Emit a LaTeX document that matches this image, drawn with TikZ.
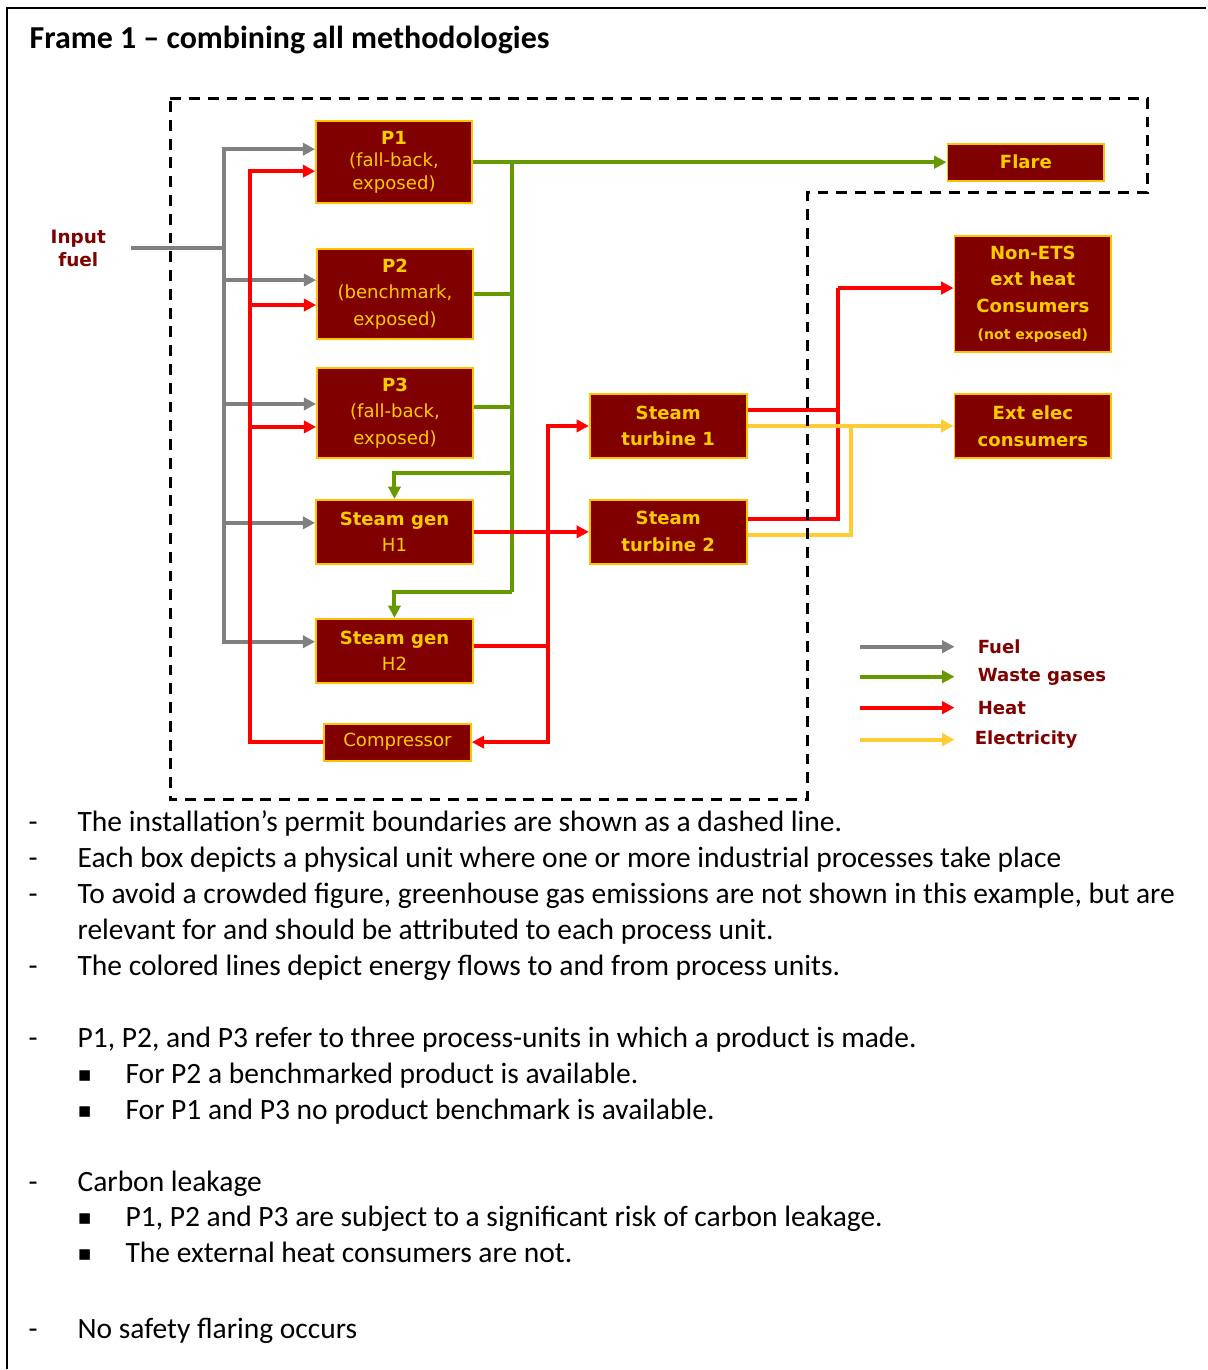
\documentclass[tikz,border=0pt]{standalone}
\usepackage{fontspec}
\setmainfont{Carlito}
\newfontfamily\boxfont{DejaVu Sans}
\usetikzlibrary{arrows.meta,calc}

\definecolor{boxfill}{HTML}{800000}
\definecolor{boxedge}{HTML}{FFC000}
\definecolor{boxtext}{HTML}{FFCC00}
\definecolor{fuelgray}{HTML}{808080}
\definecolor{gasgreen}{HTML}{669900}
\definecolor{heatred}{HTML}{FF0000}
\definecolor{elecyellow}{HTML}{FFCC33}
\definecolor{labelred}{HTML}{800000}

\tikzset{
	unit/.style={draw=boxedge, line width=1.1pt, fill=boxfill, text=boxtext, align=center, inner sep=0pt, font=\boxfont\fontsize{10.3}{15}\selectfont},
	flow/.style={line width=2.3pt},
	head/.style={-{Triangle[length=7pt,width=7pt]}},
	fuel/.style={flow, fuelgray},
	gas/.style={flow, gasgreen},
	heat/.style={flow, heatred},
	elec/.style={flow, elecyellow},
	fuelarr/.style={fuel, head},
	gasarr/.style={gas, head},
	heatarr/.style={heat, head},
	elecarr/.style={elec, head},
	legend/.style={anchor=west, inner sep=0pt, text=labelred, font=\boxfont\bfseries\fontsize{10.3}{13}\selectfont},
	body/.style={anchor=base west, inner sep=0pt, font=\fontsize{16.8}{20}\selectfont},
	boundary/.style={black, line width=1.7pt, dash pattern=on 6.2pt off 4.5pt}
}

\begin{document}
\begin{tikzpicture}[x=0.02cm, y=0.02cm]
		\filldraw[white] (0,0) rectangle (1207,-1370);
		\draw[line width=1.1pt] (7,-1370) -- (7,-8) -- (1207,-8);

		\node[anchor=base west, inner sep=0pt, font=\bfseries\fontsize{18.2}{22}\selectfont] (title) at (29,-48) {Frame 1 – combining all methodologies};

		\node[legend, anchor=center, align=center, minimum width=2.08cm, font=\boxfont\bfseries\fontsize{10.5}{13}\selectfont] (infuel) at (78,-248) {Input\\fuel};

		\node[unit, minimum width=3.12cm, minimum height=1.64cm, font=\boxfont\fontsize{10.3}{12.8}\selectfont] (p1) at (394,-162) {\textbf{P1}\\(fall-back,\\exposed)};
		\node[unit, minimum width=3.12cm, minimum height=1.8cm] (p2) at (395,-294) {\textbf{P2}\\(benchmark,\\exposed)};
		\node[unit, minimum width=3.12cm, minimum height=1.8cm] (p3) at (395,-413) {\textbf{P3}\\(fall-back,\\exposed)};
		\node[unit, minimum width=3.14cm, minimum height=1.28cm] (h1) at (394.5,-532) {\textbf{Steam gen}\\H1};
		\node[unit, minimum width=3.14cm, minimum height=1.28cm] (h2) at (394.5,-651) {\textbf{Steam gen}\\H2};
		\node[unit, minimum width=2.94cm, minimum height=0.74cm] (comp) at (397.5,-742.5) {Compressor};

		\node[unit, minimum width=3.14cm, minimum height=1.28cm, font=\boxfont\bfseries\fontsize{10.3}{15.3}\selectfont] (st1) at (668.5,-426) {Steam\\turbine 1};
		\node[unit, minimum width=3.14cm, minimum height=1.28cm, font=\boxfont\bfseries\fontsize{10.3}{15.3}\selectfont] (st2) at (668.5,-532) {Steam\\turbine 2};

		\node[unit, minimum width=3.14cm, minimum height=0.74cm, font=\boxfont\bfseries\fontsize{10.3}{15}\selectfont] (flare) at (1026.5,-162) {Flare};
		\node[unit, minimum width=3.14cm, minimum height=2.32cm, font=\boxfont\bfseries\fontsize{10.3}{15.3}\selectfont] (nonets) at (1033.5,-294) {Non-ETS\\ext heat\\Consumers\\{\fontsize{8}{15.3}\selectfont(not exposed)}};
		\node[unit, minimum width=3.14cm, minimum height=1.28cm, font=\boxfont\bfseries\fontsize{10.3}{15.3}\selectfont] (elec) at (1033.5,-426) {Ext elec\\consumers};

		\coordinate (fuelbus) at (224,-248);
		\coordinate (gastop) at (512,-162);
		\coordinate (gash1) at (512,-473);
		\coordinate (gash2) at (512,-592);
		\coordinate (steambus) at (548,-646);
		\coordinate (extbus) at (838,-288);
		\coordinate (elecbus) at (851,-426);

		\draw[fuel] (infuel.east) -- (fuelbus);
		\draw[fuelarr] (fuelbus) |- ($(p1.west)+(0,13)$);
		\draw[fuelarr] (fuelbus) |- ($(p2.west)+(0,14)$);
		\draw[fuelarr] (fuelbus) |- ($(p3.west)+(0,9)$);
		\draw[fuelarr] (fuelbus) |- ($(h1.west)+(0,9)$);
		\draw[fuelarr] (fuelbus) |- ($(h2.west)+(0,9)$);

		\draw[heatarr] (comp.west) -| ($(p1.west)+(-65,-9)$) -- ($(p1.west)+(0,-9)$);
		\draw[heatarr] ($(p2.west)+(-66,-11)$) -- ($(p2.west)+(0,-11)$);
		\draw[heatarr] ($(p3.west)+(-66,-14)$) -- ($(p3.west)+(0,-14)$);

		\draw[gasarr] (p1.east) -- (flare.west);
		\draw[gas] (gastop) -- (gash2);
		\draw[gas] (p2.east) -| (gastop);
		\draw[gas] ($(p3.east)+(0,6)$) -| (gastop);
		\draw[gasarr] (gash1) -| (h1.north);
		\draw[gasarr] (gash2) -| (h2.north);

		\draw[heatarr] (h1.east) -- (st2.west);
		\draw[heat] ($(h2.east)+(0,5)$) -- (steambus);
		\draw[heatarr] (steambus) |- (st1.west);
		\draw[heatarr] (steambus) |- (comp.east);

		\draw[heat] ($(st1.east)+(0,16)$) -| (extbus);
		\draw[heat] ($(st2.east)+(0,13)$) -| (extbus);
		\draw[heatarr] (extbus) -- (extbus -| nonets.west);

		\draw[elecarr] (st1.east) -- (elec.west);
		\draw[elec] ($(st2.east)+(0,-3)$) -| (elecbus);

		\draw[boundary] (170,-98) -- (1148,-98) -- (1148,-192) -- (808,-192) -- (808,-800) -- (170,-800) -- cycle;

		\node[legend] (lfuel) at (978,-647) {Fuel};
		\node[legend] (lgas) at (978,-677) {Waste gases};
		\node[legend] (lheat) at (978,-708) {Heat};
		\node[legend] (lelec) at (975,-740) {Electricity};
		\draw[fuelarr] ($(lfuel.west)+(-118,0)$) -- ($(lfuel.west)+(-23,0)$);
		\draw[gasarr] ($(lgas.west)+(-118,0)$) -- ($(lgas.west)+(-23,0)$);
		\draw[heatarr] ($(lheat.west)+(-118,0)$) -- ($(lheat.west)+(-23,0)$);
		\draw[elecarr] ($(lelec.west)+(-115,0)$) -- ($(lelec.west)+(-20,0)$);

		\node[body] (d1) at (28,-832) {-};
		\node[body] (t1) at (77,-832) {The installation’s permit boundaries are shown as a dashed line.};
		\node[body] (d2) at (28,-868) {-};
		\node[body] (t2) at (77,-868) {Each box depicts a physical unit where one or more industrial processes take place};
		\node[body] (d3) at (28,-904) {-};
		\node[body] (t3) at (77,-904) {To avoid a crowded figure, greenhouse gas emissions are not shown in this example, but are};
		\node[body] (t4) at (77,-940) {relevant for and should be attributed to each process unit.};
		\node[body] (d5) at (28,-976) {-};
		\node[body] (t5) at (77,-976) {The colored lines depict energy flows to and from process units.};

		\node[body] (d6) at (28,-1048) {-};
		\node[body] (t6) at (77,-1048) {P1, P2, and P3 refer to three process-units in which a product is made.};
		\node[body] (b7) at (77,-1082) {\boxfont\fontsize{12}{14}\selectfont ▪};
		\node[body] (t7) at (125,-1084) {For P2 a benchmarked product is available.};
		\node[body] (b8) at (77,-1118) {\boxfont\fontsize{12}{14}\selectfont ▪};
		\node[body] (t8) at (125,-1120) {For P1 and P3 no product benchmark is available.};

		\node[body] (d9) at (28,-1192) {-};
		\node[body] (t9) at (77,-1192) {Carbon leakage};
		\node[body] (b10) at (77,-1225) {\boxfont\fontsize{12}{14}\selectfont ▪};
		\node[body] (t10) at (125,-1227) {P1, P2 and P3 are subject to a significant risk of carbon leakage.};
		\node[body] (b11) at (77,-1261) {\boxfont\fontsize{12}{14}\selectfont ▪};
		\node[body] (t11) at (125,-1263) {The external heat consumers are not.};

		\node[body] (d12) at (28,-1339) {-};
		\node[body] (t12) at (77,-1339) {No safety flaring occurs};
	\end{tikzpicture}
\end{document}
